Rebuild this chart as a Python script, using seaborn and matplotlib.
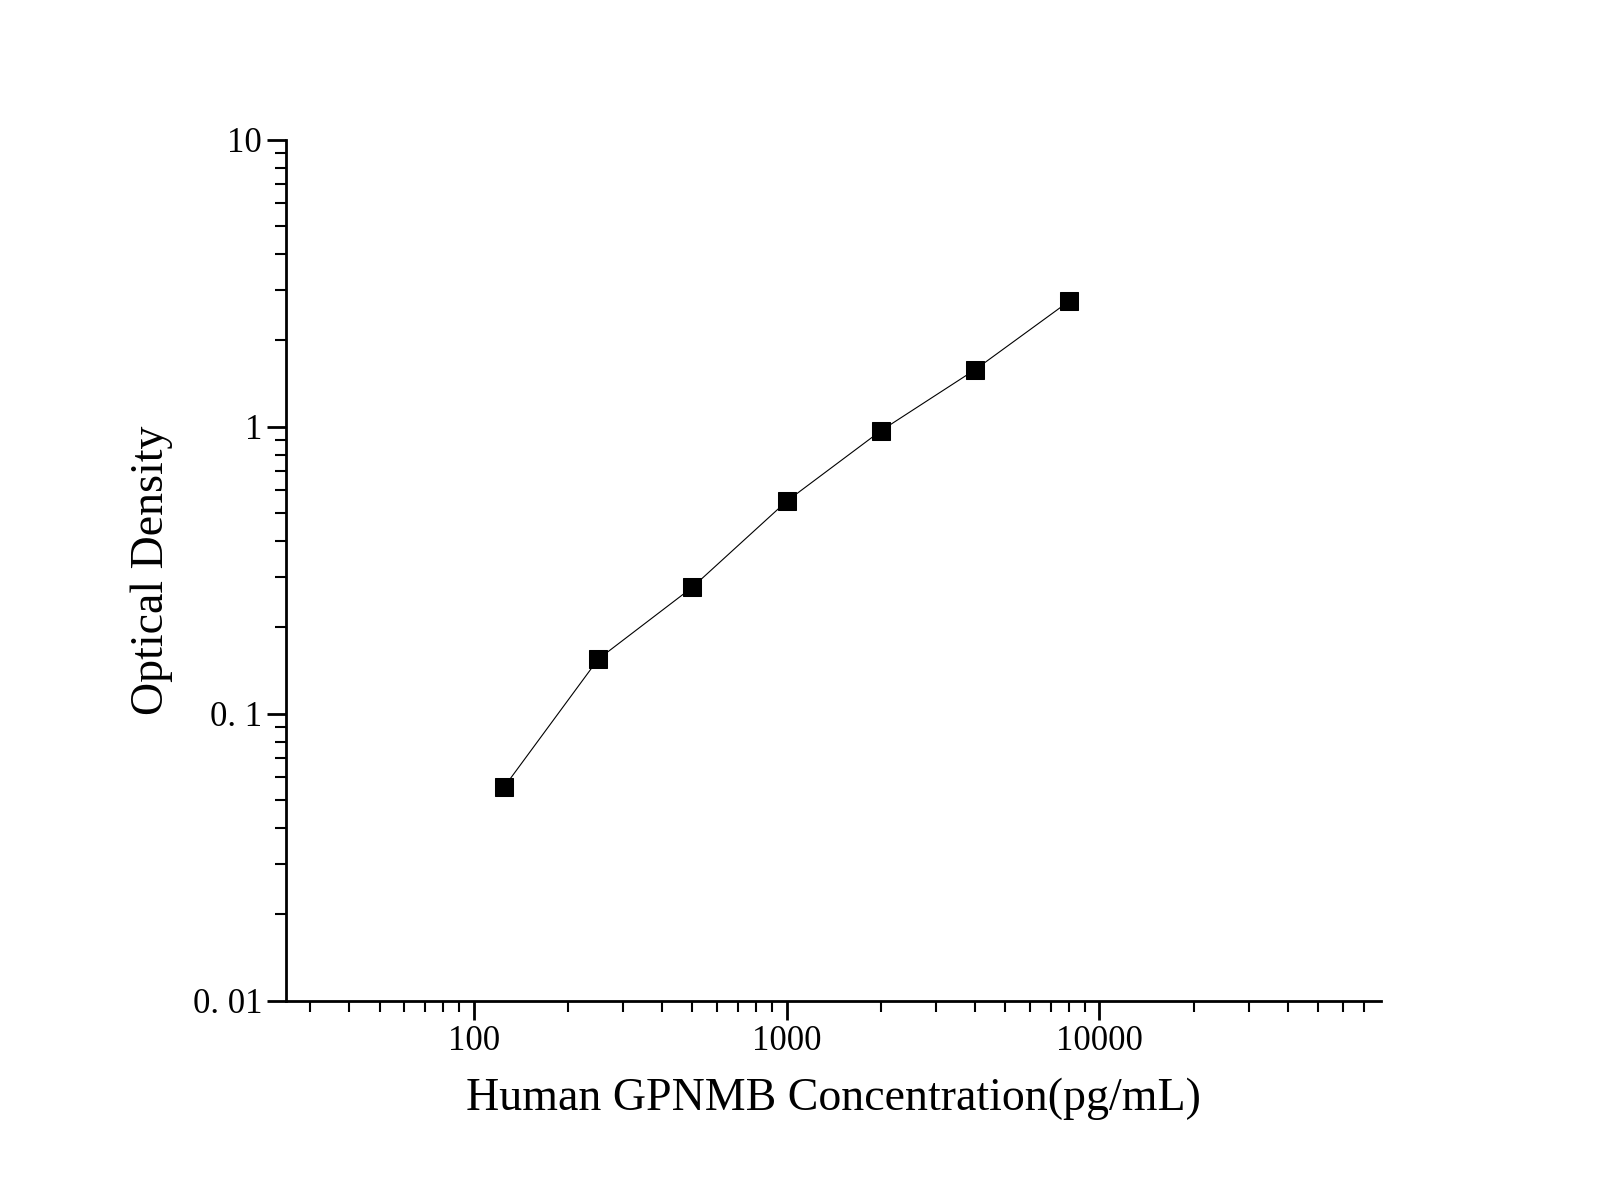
import matplotlib
matplotlib.use("Agg")
import matplotlib.pyplot as plt
import seaborn as sns
import pandas as pd
from matplotlib.ticker import LogLocator, FixedLocator, FixedFormatter, NullFormatter

conc = [125, 250, 500, 1000, 2000, 4000, 8000]
od = [0.0555, 0.155, 0.276, 0.55, 0.968, 1.58, 2.74]
xticks = [100, 1000, 10000]
xticklabels = ["100", "1000", "10000"]
yticks = [0.01, 0.1, 1, 10]
yticklabels = ["0. 01", "0. 1", "1", "10"]

plt.rcParams["font.family"] = "Liberation Serif"
df = pd.DataFrame({"c": conc, "od": od})
fig = plt.figure(figsize=(16, 12), dpi=100)
ax = fig.add_axes([0.179, 0.166, 0.684, 0.7175])
sns.lineplot(data=df, x="c", y="od", ax=ax, color="black", linewidth=0.8,
             marker="s", markersize=13, markeredgecolor="black")
ax.set_xscale("log"); ax.set_yscale("log")
ax.set_xlim(25.2, 79300); ax.set_ylim(0.01, 10)
ax.xaxis.set_major_locator(FixedLocator(xticks))
ax.xaxis.set_major_formatter(FixedFormatter(xticklabels))
ax.yaxis.set_major_locator(FixedLocator(yticks))
ax.yaxis.set_major_formatter(FixedFormatter(yticklabels))
for a in (ax.xaxis, ax.yaxis):
    a.set_minor_locator(LogLocator(base=10, subs=range(2, 10), numticks=20))
    a.set_minor_formatter(NullFormatter())
for s in ["top", "right"]:
    ax.spines[s].set_visible(False)
for s in ["left", "bottom"]:
    ax.spines[s].set_linewidth(2)
ax.tick_params(which="major", length=14, width=2, labelsize=25, direction="out")
ax.tick_params(which="minor", length=8, width=1.5, direction="out")
ax.set_xlabel("Human GPNMB Concentration(pg/mL)", fontsize=33, labelpad=14)
ax.set_ylabel("Optical Density", fontsize=33, labelpad=14)
fig.savefig("out.png")
